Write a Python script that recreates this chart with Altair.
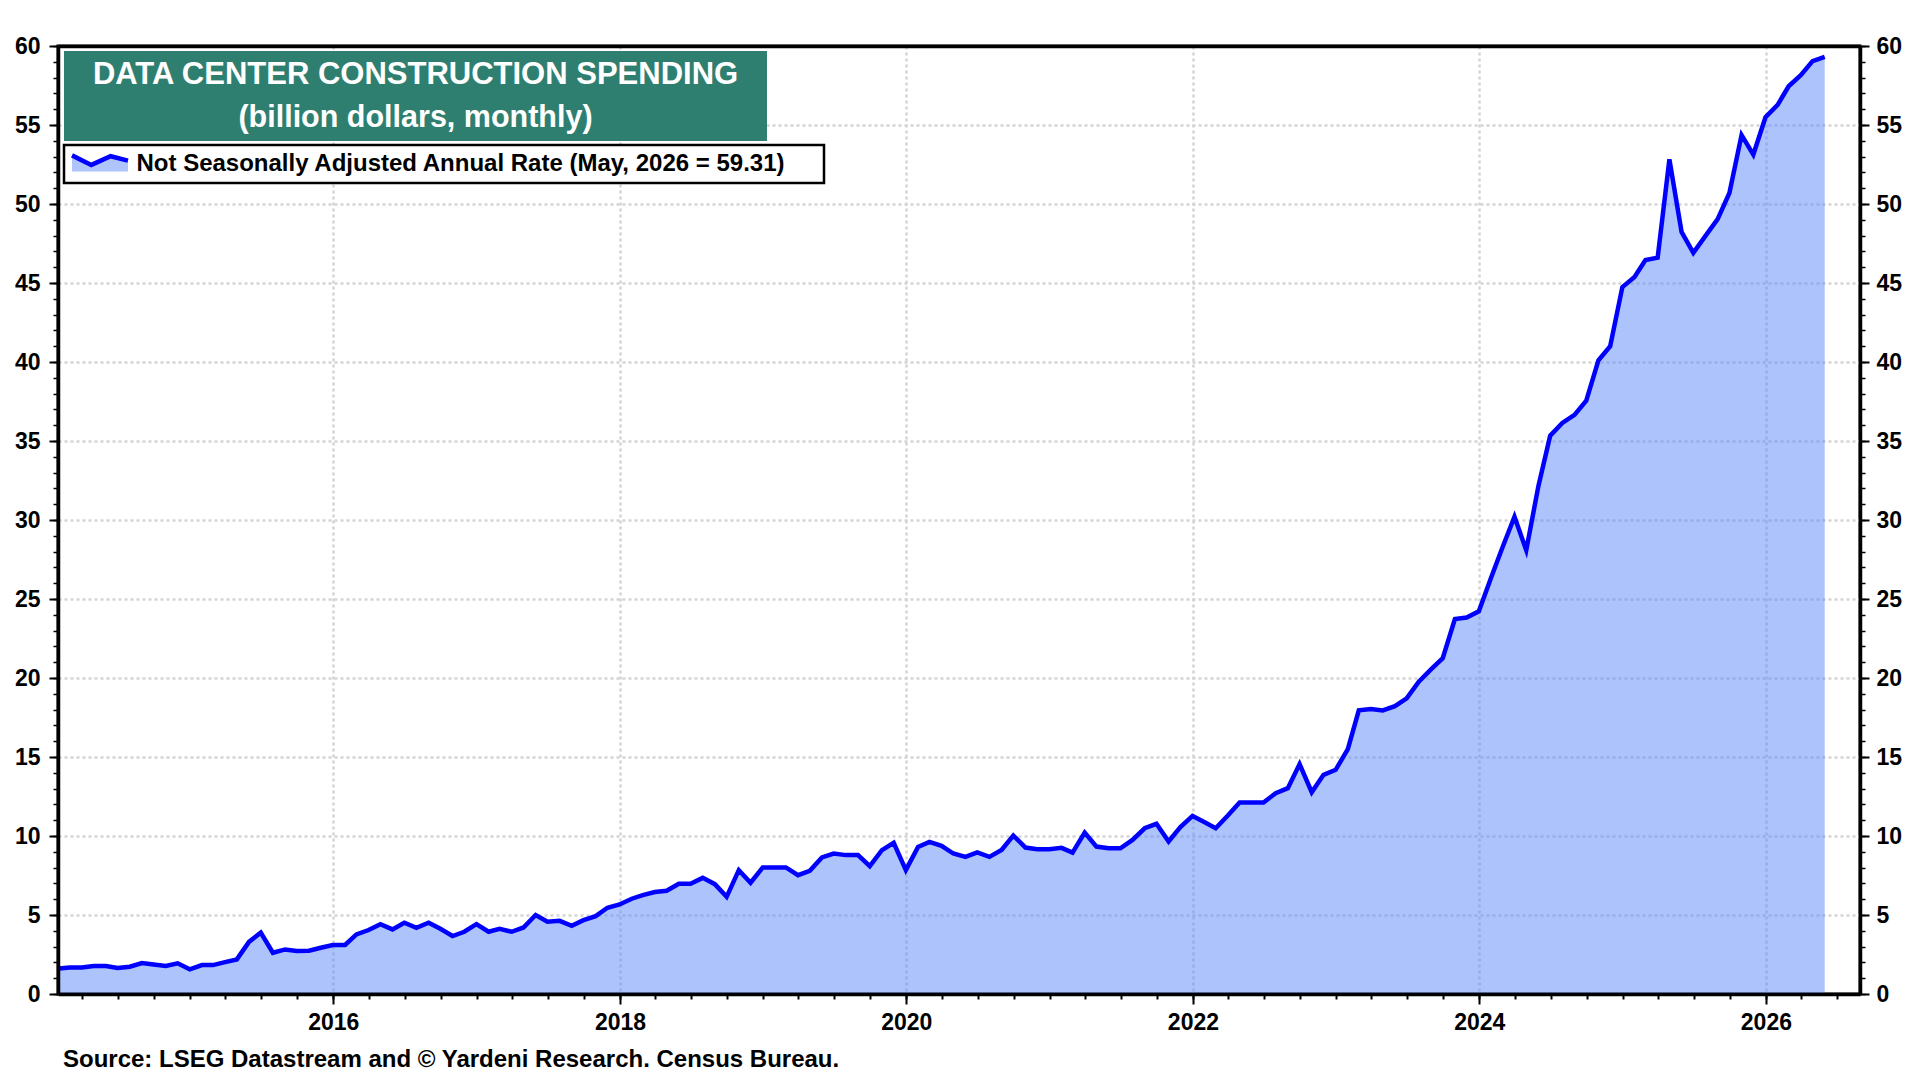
import calendar
import pandas as pd
import altair as alt

# ---------------- data ----------------
values = [
    1.62, 1.68, 1.68, 1.77, 1.77, 1.65, 1.73, 1.96, 1.87, 1.77, 1.94, 1.56,   # 2014
    1.83, 1.83, 2.02, 2.19, 3.30, 3.88, 2.61, 2.82, 2.72, 2.74, 2.93, 3.10,   # 2015
    3.10, 3.77, 4.05, 4.42, 4.09, 4.51, 4.19, 4.51, 4.13, 3.67, 3.94, 4.42,   # 2016
    3.94, 4.13, 3.94, 4.21, 5.00, 4.57, 4.63, 4.32, 4.67, 4.93, 5.46, 5.67,   # 2017
    6.03, 6.26, 6.45, 6.53, 6.97, 6.97, 7.35, 6.95, 6.15, 7.84, 7.04, 8.01,   # 2018
    8.01, 8.01, 7.52, 7.80, 8.64, 8.89, 8.79, 8.79, 8.09, 9.10, 9.57, 7.84,   # 2019
    9.31, 9.63, 9.38, 8.89, 8.68, 8.96, 8.68, 9.12, 10.03, 9.27, 9.16, 9.16,  # 2020
    9.25, 8.95, 10.22, 9.33, 9.22, 9.22, 9.75, 10.49, 10.77, 9.65, 10.56, 11.27,  # 2021
    10.87, 10.49, 11.30, 12.12, 12.12, 12.12, 12.71, 13.03, 14.55, 12.77, 13.87, 14.19,  # 2022
    15.50, 17.95, 18.04, 17.95, 18.22, 18.71, 19.77, 20.55, 21.25, 23.73, 23.83, 24.22,  # 2023
    26.33, 28.24, 30.21, 28.09, 32.16, 35.34, 36.14, 36.65, 37.56, 40.10, 41.00, 44.74,  # 2024
    45.38, 46.45, 46.60, 52.83, 48.23, 46.91, 47.98, 49.04, 50.70, 54.36, 53.13, 55.49,  # 2025
    56.28, 57.45, 58.15, 59.04, 59.31,                                         # 2026
]
first_year, first_month = 2014, 1
series_label = "Not Seasonally Adjusted Annual Rate (May, 2026 = 59.31)"
title_line1 = "DATA CENTER CONSTRUCTION SPENDING"
title_line2 = "(billion dollars, monthly)"
source_text = "Source: LSEG Datastream and \u00a9 Yardeni Research. Census Bureau."
year_labels = [2016, 2018, 2020, 2022, 2024, 2026]
y_major = list(range(0, 61, 5))
y_minor = list(range(0, 61, 1))

# month-end dates for each monthly observation
dates = []
yy, mm = first_year, first_month
for _ in values:
    last = calendar.monthrange(yy, mm)[1]
    dates.append(f"{yy:04d}-{mm:02d}-{last:02d}")
    mm += 1
    if mm > 12:
        mm = 1
        yy += 1

df = pd.DataFrame({"date": dates, "value": values, "series": series_label})

# ---------------- styling ----------------
FONT = "Liberation Sans, Arial, Helvetica, sans-serif"
GRID = "#d4d4d4"
GREEN = "#2f7f71"
W, H = 1802, 948

year_ticks = [alt.DateTime(year=y, month=1, date=1, utc=True) for y in year_labels]
quarter_ticks = [
    alt.DateTime(year=y, month=m, date=1, utc=True)
    for y in range(2014, 2027) for m in (1, 4, 7, 10)
    if (2014, 4) <= (y, m) <= (2026, 7)
]

xscale = alt.Scale(
    type="utc",
    domain=[alt.DateTime(year=2014, month=1, date=29, utc=True),
            alt.DateTime(year=2026, month=8, date=29, utc=True)],
)
yscale = alt.Scale(domain=[0, 60], nice=False, zero=True)

lab = dict(labelFont=FONT, labelFontSize=23, labelFontWeight="bold", labelColor="black",
           labelFlush=False, labelOverlap=False)

ax_x_major = alt.Axis(orient="bottom", values=year_ticks,
                      labelExpr="utcFormat(datum.value, '%Y')",
                      tickSize=10, tickWidth=2, tickColor="black", labelPadding=7,
                      grid=True, gridColor=GRID, gridDash=[3, 3], gridWidth=2.5,
                      domain=False, title=None, **lab)
ax_x_minor = alt.Axis(orient="bottom", values=quarter_ticks, tickSize=5, tickWidth=2,
                      tickColor="black", labels=False, grid=False, domain=True,
                      domainColor="black", domainWidth=3.5, title=None, zindex=1)
ax_x_top = alt.Axis(orient="top", ticks=False, labels=False, grid=False, domain=True,
                    domainColor="black", domainWidth=3.5, title=None, zindex=1)
ax_y_left = alt.Axis(orient="left", values=y_major, tickSize=9, tickWidth=2,
                     tickColor="black", labelPadding=9, grid=True, gridColor=GRID,
                     gridDash=[3, 3], gridWidth=2.5, domain=False, title=None, **lab)
ax_y_left_minor = alt.Axis(orient="left", values=y_minor, tickSize=5, tickWidth=1.5,
                           tickColor="black", labels=False, grid=False, domain=True,
                           domainColor="black", domainWidth=3.5, title=None, zindex=1)
ax_y_right = alt.Axis(orient="right", values=y_major, tickSize=9, tickWidth=2,
                      tickColor="black", labelPadding=7, grid=False, domain=False,
                      title=None, **lab)
ax_y_right_minor = alt.Axis(orient="right", values=y_minor, tickSize=5, tickWidth=1.5,
                            tickColor="black", labels=False, grid=False, domain=True,
                            domainColor="black", domainWidth=3.5, title=None, zindex=1)

legend = alt.Legend(
    title=None, orient="none", legendX=11.5, legendY=87, padding=0,
    symbolType="M-1,-0.29L-0.31,0.05L0.38,-0.26L1,-0.1L1,0.29L-1,0.29Z",
    symbolSize=3136, symbolStrokeWidth=4.5, symbolFillColor="#aec4fb",
    symbolDash=[60.6, 200], symbolOpacity=1,
    labelFont=FONT, labelFontSize=24, labelFontWeight="bold", labelColor="black",
    labelOffset=6, labelLimit=1500,
)

base = alt.Chart(df)
X = lambda axis: alt.X("date:T", scale=xscale, axis=axis)
Y = lambda axis: alt.Y("value:Q", scale=yscale, axis=axis)

area = base.mark_area(color="#5b87f9", opacity=0.5).encode(x=X(ax_x_major), y=Y(ax_y_left))
line = base.mark_line(strokeWidth=4.5).encode(
    x=X(None), y=Y(None),
    color=alt.Color("series:N", scale=alt.Scale(range=["#0000ff"]), legend=legend),
)
minor = base.mark_line(strokeOpacity=0).encode(x=X(ax_x_minor), y=Y(ax_y_left_minor))
right = base.mark_line(strokeOpacity=0).encode(x=X(ax_x_top), y=Y(ax_y_right))
right_minor = base.mark_line(strokeOpacity=0).encode(x=X(None), y=Y(ax_y_right_minor))

one = pd.DataFrame({"k": [0]})
title_box = alt.Chart(one).mark_rect(color=GREEN).encode(
    x=alt.value(6), x2=alt.value(709), y=alt.value(5), y2=alt.value(95))
title_a = alt.Chart(pd.DataFrame({"t": [title_line1]})).mark_text(
    font=FONT, fontSize=31, fontWeight="bold", color="white", align="center",
    baseline="middle").encode(text="t:N", x=alt.value(357.5), y=alt.value(29))
title_b = alt.Chart(pd.DataFrame({"t": [title_line2]})).mark_text(
    font=FONT, fontSize=30.5, fontWeight="bold", color="white", align="center",
    baseline="middle").encode(text="t:N", x=alt.value(357.5), y=alt.value(71.5))
legend_box = alt.Chart(one).mark_rect(fill="white", stroke="black", strokeWidth=2.5).encode(
    x=alt.value(6), x2=alt.value(766), y=alt.value(99), y2=alt.value(137))
footer = alt.Chart(pd.DataFrame({"t": [source_text]})).mark_text(
    font=FONT, fontSize=24, fontWeight="bold", color="black", align="left",
    baseline="middle").encode(text="t:N", x=alt.value(5), y=alt.value(1014))

chart = (
    alt.layer(area, line, minor, right, right_minor,
              title_box, title_a, title_b, legend_box, footer)
    .resolve_axis(x="independent", y="independent")
    .properties(width=W, height=H,
                autosize=alt.AutoSizeParams(type="none"),
                padding={"left": 50, "top": 38, "right": 52, "bottom": 80},
                background="white")
    .configure_view(stroke="black", strokeWidth=3)
)

chart.save("out.html", embed_options={"renderer": "svg", "actions": False})
